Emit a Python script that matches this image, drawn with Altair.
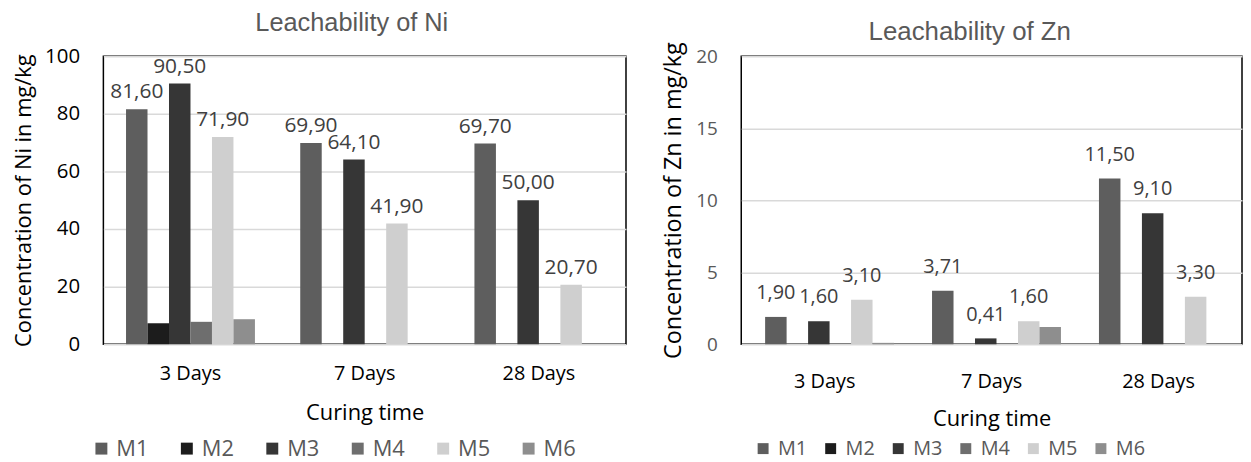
import altair as alt
import pandas as pd

days = ["3 Days", "7 Days", "28 Days"]
mixes = ["M1", "M2", "M3", "M4", "M5", "M6"]
labeled_mixes = ["M1", "M3", "M5"]

# Ni leachability (mg/kg), one list per mix, in order of days
ni_m1 = [81.6, 69.9, 69.7]
ni_m2 = [7.3, 0.0, 0.0]
ni_m3 = [90.5, 64.1, 50.0]
ni_m4 = [7.8, 0.0, 0.0]
ni_m5 = [71.9, 41.9, 20.7]
ni_m6 = [8.7, 0.0, 0.0]

# Zn leachability (mg/kg)
zn_m1 = [1.9, 3.71, 11.5]
zn_m2 = [0.0, 0.0, 0.0]
zn_m3 = [1.6, 0.41, 9.1]
zn_m4 = [0.0, 0.0, 0.0]
zn_m5 = [3.1, 1.6, 3.3]
zn_m6 = [0.1, 1.2, 0.0]

ni_ticks = [0, 20, 40, 60, 80, 100]
zn_ticks = [0, 5, 10, 15, 20]

shades = ["#5e5e5e", "#1c1c1c", "#363636", "#6e6e6e", "#cfcfcf", "#8e8e8e"]
FONT = "Open Sans"


def make_df(series):
    rows = []
    for mix, vals in zip(mixes, series):
        for d, v in zip(days, vals):
            lab = f"{v:.2f}".replace(".", ",") if (mix in labeled_mixes and v > 0) else ""
            rows.append({"day": d, "mix": mix, "value": v, "label": lab})
    return pd.DataFrame(rows)


def panel(df, title, ymax, ticks, ytitle, p):
    base = alt.Chart(df)
    x = alt.X("day:N", sort=days,
              scale=alt.Scale(domain=days, paddingInner=p["pad"], paddingOuter=p["pad"] / 2),
              axis=alt.Axis(title="Curing time", labelAngle=0, ticks=False, domain=False,
                            labelFont=FONT, labelFontSize=20, labelColor="#000000",
                            labelPadding=p["xlp"], titleFont=FONT, titleFontSize=p["xtfs"],
                            titleFontWeight="normal", titleColor="#000000",
                            titlePadding=p["xtp"]))
    xo = alt.XOffset("mix:N", scale=alt.Scale(domain=mixes, paddingInner=0, paddingOuter=0))
    y = alt.Y("value:Q", scale=alt.Scale(domain=[0, ymax], nice=False, zero=True),
              axis=alt.Axis(title=ytitle, values=ticks, ticks=False, domain=False,
                            grid=True, gridColor="#d9d9d9", gridWidth=1.5,
                            labelFont=FONT, labelFontSize=p["ylfs"], labelColor=p["ylc"],
                            labelPadding=24, titleFont=FONT, titleFontSize=p["ytfs"],
                            titleFontWeight="normal", titleColor="#000000",
                            titlePadding=p["ytp"]))
    bars = base.mark_bar().encode(
        x=x, xOffset=xo, y=y,
        color=alt.Color("mix:N", scale=alt.Scale(domain=mixes, range=shades),
                        legend=alt.Legend(title=None, orient="none", direction="horizontal",
                                          legendX=p["lx"], legendY=p["ly"],
                                          symbolType="square", symbolSize=p["ss"],
                                          symbolStrokeWidth=0, labelFont=FONT,
                                          labelFontSize=p["lfs"], labelColor="#595959",
                                          labelOffset=p["lo"], columnPadding=p["cp"],
                                          padding=0)),
    )
    text = base.transform_filter(alt.datum.label != "").mark_text(
        baseline="alphabetic", dy=p["tdy"], font=FONT, fontSize=p["tfs"], color="#404040"
    ).encode(x=x, xOffset=xo, y=y, text="label:N")
    return alt.layer(bars, text).properties(
        width=p["w"], height=290,
        title=alt.Title(title, font="Liberation Sans", fontSize=p["ttfs"], fontWeight="normal",
                        color="#595959", anchor="middle", baseline="alphabetic",
                        frame="group", offset=p["toff"], dx=p["tdx"]),
    )


left = panel(make_df([ni_m1, ni_m2, ni_m3, ni_m4, ni_m5, ni_m6]), "Leachability of Ni", 100,
             ni_ticks, "Concentration of Ni in mg/kg",
             dict(pad=0.26, xlp=19, xtfs=22, xtp=20, ylfs=20.5, ylc="#000000", ytfs=22, ytp=9,
                  lx=-13, ly=384, ss=144, lfs=22, lo=4, cp=27, tdy=-11, tfs=21, w=526,
                  ttfs=25.5, toff=-10, tdx=-13))
right = panel(make_df([zn_m1, zn_m2, zn_m3, zn_m4, zn_m5, zn_m6]), "Leachability of Zn", 20,
              zn_ticks, "Concentration of Zn in mg/kg",
              dict(pad=0.286, xlp=27, xtfs=22, xtp=18, ylfs=19, ylc="#595959", ytfs=23.5, ytp=10,
                   lx=12, ly=385, ss=121, lfs=20, lo=5, cp=13, tdy=-18, tfs=20, w=504,
                   ttfs=26, toff=-24, tdx=-22))

chart = alt.hconcat(left, right, spacing=116, bounds="flush").resolve_scale(
    color="independent", x="independent", y="independent"
).resolve_legend(color="independent").configure_view(
    stroke="#000000", strokeWidth=1.5
).properties(padding={"left": 4, "top": 0, "right": 0, "bottom": 0})

chart.save("out.html", embed_options={"renderer": "svg", "actions": False})
